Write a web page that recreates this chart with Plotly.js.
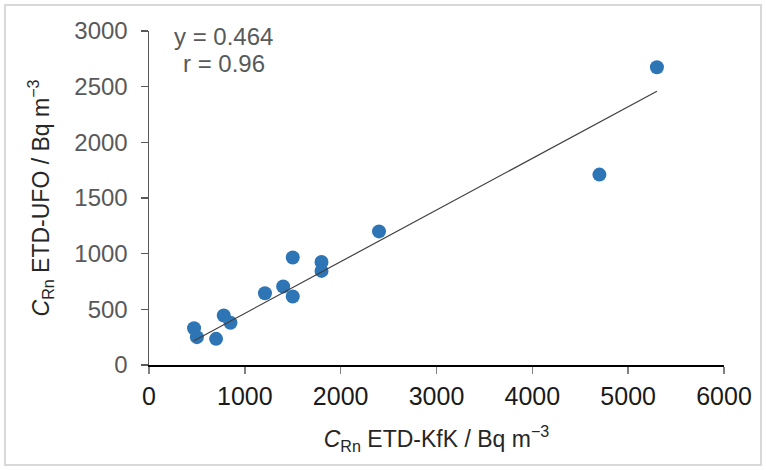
<!DOCTYPE html>
<html>
<head>
<meta charset="utf-8">
<script src="https://cdn.plot.ly/plotly-3.0.1.min.js"></script>
<style>
  html, body { margin: 0; padding: 0; background: #fff; }
  #wrap { position: relative; width: 766px; height: 470px; }
  #chart { width: 766px; height: 470px; }
  #frame { position: absolute; left: 4px; top: 4px; width: 758px; height: 462px; box-sizing: border-box; border: 2px solid #d9d9d9; pointer-events: none; }
</style>
</head>
<body>
<div id="wrap"><div id="chart"></div><div id="frame"></div></div>
<script>
// Data
const kfk = [470, 500, 700, 780, 850, 1210, 1400, 1500, 1500, 1800, 1800, 2400, 4700, 5300];
const ufo = [330, 250, 235, 445, 380, 645, 705, 965, 615, 925, 845, 1200, 1710, 2675];
const slope = 0.464;
const rValue = 0.96;
const xTicks = [0, 1000, 2000, 3000, 4000, 5000, 6000];
const yTicks = [0, 500, 1000, 1500, 2000, 2500, 3000];

const xMin = Math.min(...kfk), xMax = Math.max(...kfk);
const fitX = [xMin, xMax];
const fitY = fitX.map(v => slope * v);

const traces = [
  {
    x: kfk, y: ufo, type: 'scatter', mode: 'markers',
    marker: { size: 14, color: '#2E75B6', line: { width: 0 } },
    hoverinfo: 'x+y', showlegend: false
  },
  {
    x: fitX, y: fitY, type: 'scatter', mode: 'lines',
    line: { color: '#404040', width: 1.2 },
    hoverinfo: 'skip', showlegend: false
  }
];

const font = 'Liberation Sans, Arial, sans-serif';
const layout = {
  width: 766, height: 470,
  margin: { l: 149, r: 42, t: 31, b: 105, pad: 0 },
  paper_bgcolor: '#ffffff', plot_bgcolor: '#ffffff',
  showlegend: false,
  xaxis: {
    range: [0, 6000], tickvals: xTicks, ticktext: xTicks.map(String),
    showgrid: false, zeroline: false,
    showline: true, linecolor: '#000000', linewidth: 1.5,
    ticks: 'outside', ticklen: 7, tickwidth: 1.5, tickcolor: '#808080',
    tickfont: { family: font, size: 25, color: '#1a1a1a' },
    ticklabelstandoff: 1,
    title: { text: '<i>C</i><sub>Rn</sub> ETD-KfK / Bq m<sup>−3</sup>', font: { family: font, size: 23, color: '#262626' }, standoff: 22 },
    fixedrange: true
  },
  yaxis: {
    range: [0, 3000], tickvals: yTicks, ticktext: yTicks.map(String),
    showgrid: false, zeroline: false,
    showline: true, linecolor: '#595959', linewidth: 1.5,
    ticks: 'outside', ticklen: 7, tickwidth: 1.5, tickcolor: '#595959',
    tickfont: { family: font, size: 24, color: '#595959' },
    ticklabelstandoff: 8,
    title: { text: '<i>C</i><sub>Rn</sub> ETD-UFO / Bq m<sup>−3</sup>', font: { family: font, size: 23, color: '#262626' }, standoff: 18 },
    fixedrange: true
  },
  annotations: [
    { x: 780, y: 2951, xref: 'x', yref: 'y', text: 'y = ' + slope.toFixed(3), showarrow: false,
      xanchor: 'center', yanchor: 'middle', font: { family: font, size: 24, color: '#595959' } },
    { x: 780, y: 2705, xref: 'x', yref: 'y', text: 'r = ' + rValue.toFixed(2), showarrow: false,
      xanchor: 'center', yanchor: 'middle', font: { family: font, size: 24, color: '#595959' } }
  ]
};

Plotly.newPlot('chart', traces, layout, { displayModeBar: false, staticPlot: true });
</script>
</body>
</html>
